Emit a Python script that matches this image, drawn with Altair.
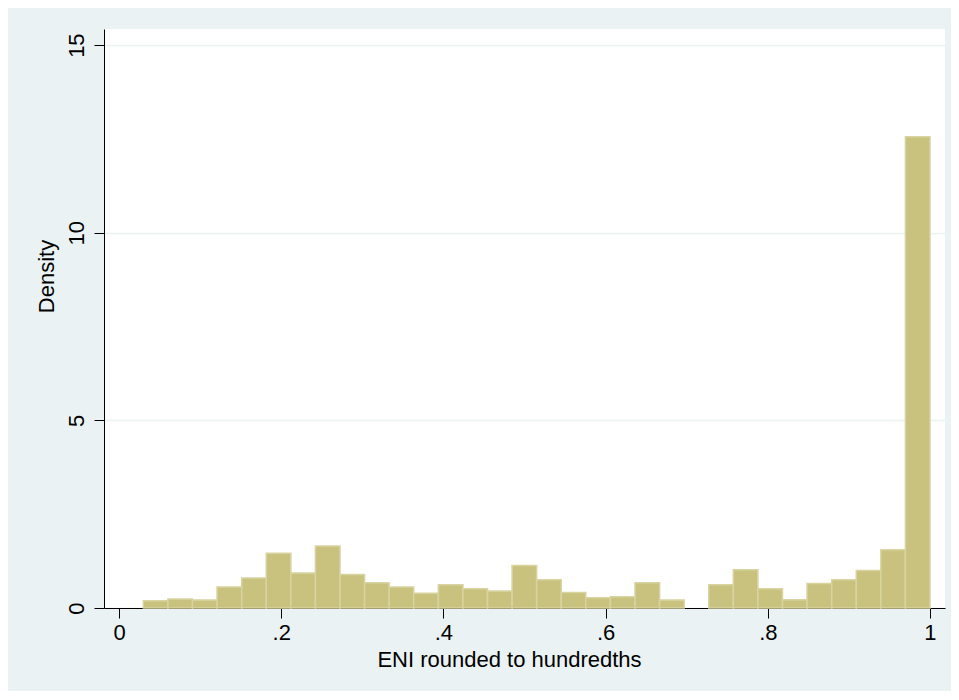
import altair as alt
import pandas as pd

# Histogram bin edges (lower / upper)
bin_lo = [0.0300, 0.0603, 0.0906, 0.1209, 0.1513, 0.1816, 0.2119, 0.2422,
          0.2725, 0.3028, 0.3331, 0.3634, 0.3938, 0.4241, 0.4544, 0.4847,
          0.5150, 0.5453, 0.5756, 0.6059, 0.6363, 0.6666, 0.6969, 0.7272,
          0.7575, 0.7878, 0.8181, 0.8484, 0.8788, 0.9091, 0.9394, 0.9697]
bin_hi = [0.0603, 0.0906, 0.1209, 0.1513, 0.1816, 0.2119, 0.2422, 0.2725,
          0.3028, 0.3331, 0.3634, 0.3938, 0.4241, 0.4544, 0.4847, 0.5150,
          0.5453, 0.5756, 0.6059, 0.6363, 0.6666, 0.6969, 0.7272, 0.7575,
          0.7878, 0.8181, 0.8484, 0.8788, 0.9091, 0.9394, 0.9697, 1.0000]
density = [0.19, 0.24, 0.21, 0.56, 0.80, 1.46, 0.93, 1.65,
           0.89, 0.67, 0.56, 0.39, 0.62, 0.51, 0.45, 1.13,
           0.75, 0.41, 0.27, 0.30, 0.67, 0.21, 0.00, 0.62,
           1.02, 0.51, 0.22, 0.65, 0.75, 1.00, 1.55, 12.56]

x_ticks = [0, 0.2, 0.4, 0.6, 0.8, 1]
y_ticks = [0, 5, 10, 15]

df = pd.DataFrame({"lo": bin_lo, "hi": bin_hi, "density": density})
df = df[df["density"] > 0]

BG = "#EAF2F3"
FONT = "Liberation Sans"

x_axis = alt.Axis(
    values=x_ticks,
    labelExpr="datum.value == 0 ? '0' : (datum.value >= 1 ? '1' : replace(format(datum.value, '.1f'), '0.', '.'))",
    grid=False,
    domainColor="#000000", domainWidth=1,
    tickColor="#000000", tickSize=10, tickWidth=1,
    labelFont=FONT, labelFontSize=22, labelColor="#000000",
    labelPadding=4, labelAlign="center", labelBaseline="top",
    title="ENI rounded to hundredths",
    titleFont=FONT, titleFontSize=22, titleFontWeight="normal", titleColor="#000000",
    titleX=405, titleY=58, titleAlign="center", titleBaseline="alphabetic",
)

y_axis = alt.Axis(
    values=y_ticks,
    grid=True, gridColor=BG, gridWidth=1.5,
    domainColor="#000000", domainWidth=1,
    tickColor="#000000", tickSize=10, tickWidth=1,
    labelFont=FONT, labelFontSize=22, labelColor="#000000",
    labelAngle=270, labelAlign="center", labelBaseline="alphabetic", labelPadding=11,
    title="Density",
    titleFont=FONT, titleFontSize=22, titleFontWeight="normal", titleColor="#000000",
    titleAngle=270, titleX=-51, titleY=247, titleAlign="center", titleBaseline="alphabetic",
)

chart = alt.Chart(df).mark_rect(
    color="#C9C27E", stroke="#D8D3A0", strokeWidth=1.5
).encode(
    x=alt.X("lo:Q", scale=alt.Scale(domain=[-0.0185, 1.0185], nice=False, zero=False), axis=x_axis),
    x2="hi:Q",
    y=alt.Y("density:Q", scale=alt.Scale(domain=[0, 15.43], nice=False), axis=y_axis),
    y2=alt.datum(0),
).properties(
    width=841, height=579,
    autosize=alt.AutoSizeParams(type="none"),
    padding={"left": 96, "top": 21, "right": 6, "bottom": 83},
    background=BG,
).configure_view(
    fill="#FFFFFF", stroke=None
).configure_axis(
    gridColor=BG
)

chart.save("out.html", embed_options={"renderer": "svg", "actions": False})
